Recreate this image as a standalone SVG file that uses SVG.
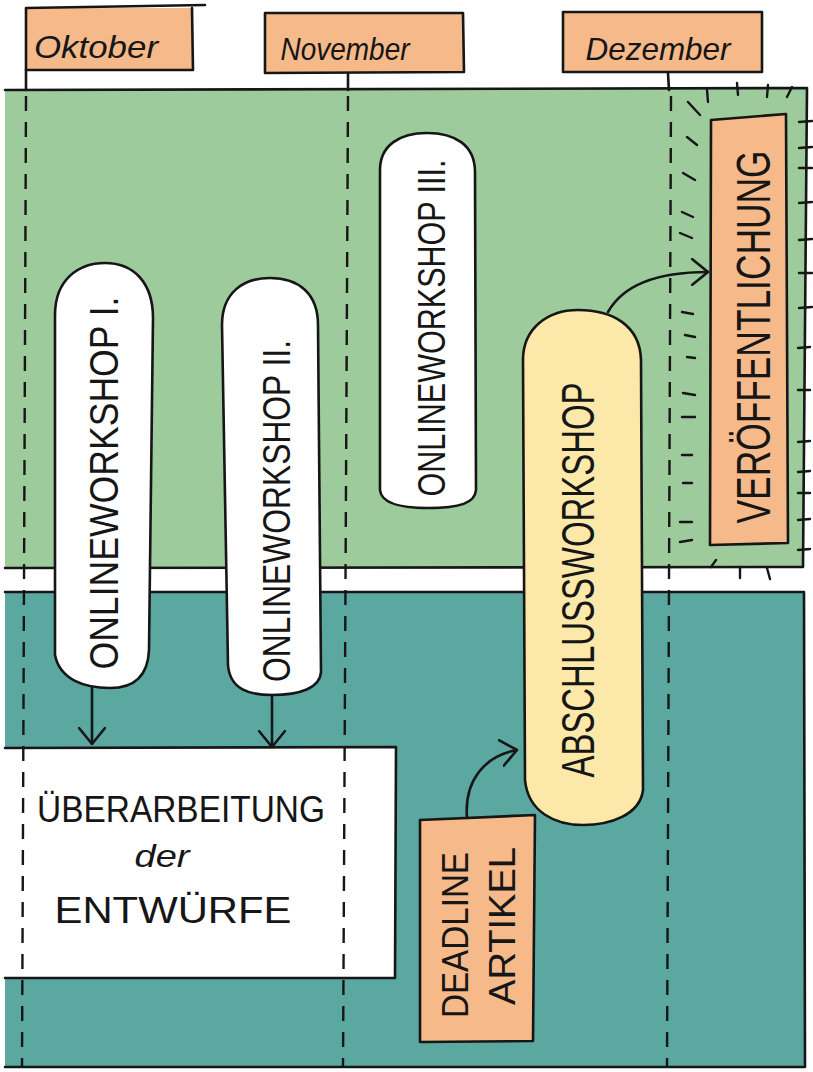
<svg xmlns="http://www.w3.org/2000/svg" width="813" height="1072" viewBox="0 0 813 1072">
<defs>
<style>
.ln{fill:none;stroke:#161616;stroke-width:2.6;stroke-linecap:round;stroke-linejoin:round}
.dash{fill:none;stroke:#161616;stroke-width:2.4;stroke-dasharray:15 11}
.tick{fill:none;stroke:#161616;stroke-width:2.4;stroke-linecap:round}
.pill{stroke:#161616;stroke-width:2.6;stroke-linejoin:round}
.org{fill:#F5B98A}
.wht{fill:#FFFFFF}
.yel{fill:#FCE8A8}
.cap{font-family:"Liberation Sans","DejaVu Sans",sans-serif;fill:#161616;text-anchor:middle}
.hand{font-family:"Liberation Sans","DejaVu Sans",sans-serif;font-style:italic;fill:#161616;text-anchor:middle}
</style>
<marker id="arr" viewBox="0 0 18 28" refX="17" refY="14" markerWidth="18" markerHeight="28" markerUnits="userSpaceOnUse" orient="auto">
<path d="M1,1 L17,14 L1,27" fill="none" stroke="#161616" stroke-width="2.6" stroke-linecap="round" stroke-linejoin="round"/>
</marker>
</defs>
<rect x="0" y="0" width="813" height="1072" fill="#FFFFFF"/>

<g id="background">
<path d="M5,90 L807,88 L803,567 L5,568 Z" fill="#9ECB9C"/>
<path d="M5,592 L804,592 L805,1067 L5,1067 Z" fill="#5BA8A1"/>
<path class="ln" d="M5,90 L807,88 L803,567 L5,568"/>
<path class="ln" d="M5,592 L804,592 L805,1067 L5,1067"/>
</g>

<g id="ueberarbeitung">
<path class="wht" d="M5,748 L396,747 L395,978 L5,978 Z"/>
<path class="ln" d="M5,748 L396,747 L395,978 L5,978"/>
<text class="cap" x="181" y="822" font-size="37" textLength="288" lengthAdjust="spacingAndGlyphs">ÜBERARBEITUNG</text>
<text class="hand" x="162" y="867" font-size="32" textLength="55" lengthAdjust="spacingAndGlyphs">der</text>
<text class="cap" x="173" y="923" font-size="37" textLength="237" lengthAdjust="spacingAndGlyphs">ENTWÜRFE</text>
</g>

<g id="timeline">
<path class="ln" d="M26,70 L26,90"/>
<path class="ln" d="M348,73 L348,90"/>
<path class="ln" d="M668,73 L669,90"/>
<path class="dash" d="M26,96 L22,1068"/>
<path class="dash" d="M348,96 L343,1068"/>
<path class="dash" d="M671,96 L667,1068"/>
</g>

<g id="month-oktober">
<path class="org" d="M26,8 L192,8 L193,70 L26,70 Z"/>
<path class="ln" d="M26,8 L205,5 M192,8 L193,70 L26,70 L26,8"/>
<text class="hand" x="96" y="58" font-size="32" textLength="124" lengthAdjust="spacingAndGlyphs">Oktober</text>
</g>
<g id="month-november">
<path class="org" d="M265,13 L463,13 L464,72 L265,73 Z"/>
<path class="ln" d="M265,13 L463,13 L464,72 L265,73 Z"/>
<text class="hand" x="345" y="60" font-size="32" textLength="129" lengthAdjust="spacingAndGlyphs">November</text>
</g>
<g id="month-dezember">
<path class="org" d="M563,12 L762,12 L762,72 L563,72 Z"/>
<path class="ln" d="M563,12 L762,12 L762,72 L563,72 Z"/>
<text class="hand" x="658" y="60" font-size="32" textLength="145" lengthAdjust="spacingAndGlyphs">Dezember</text>
</g>

<g id="workshop-1">
<path class="pill wht" d="M55,315 C55,280 78,263 105,263 C133,263 153,282 153,318 L149,650 C148,675 135,688 110,688 C85,688 60,680 55,655 Z"/>
<text class="cap" transform="translate(118,483) rotate(-90)" font-size="40" textLength="373" lengthAdjust="spacingAndGlyphs">ONLINEWORKSHOP I.</text>
</g>
<g id="workshop-2">
<path class="pill wht" d="M222,325 C222,292 244,278 270,278 C298,278 318,293 318,325 L321,672 C320,688 300,695 272,695 C250,695 230,690 228,665 Z"/>
<text class="cap" transform="translate(290,511) rotate(-90)" font-size="38" textLength="342" lengthAdjust="spacingAndGlyphs">ONLINEWORKSHOP II.</text>
</g>
<g id="workshop-3">
<path class="pill wht" d="M380,170 C380,145 400,133 427,133 C455,133 475,145 475,172 L476,490 C475,503 460,508 428,508 C398,508 381,503 380,490 Z"/>
<text class="cap" transform="translate(445,328) rotate(-90)" font-size="38" textLength="337" lengthAdjust="spacingAndGlyphs">ONLINEWORKSHOP III.</text>
</g>
<g id="abschlussworkshop">
<path class="pill yel" d="M523,360 C523,328 548,310 578,310 C612,310 640,325 641,360 L643,790 C640,815 610,825 583,825 C555,825 528,812 525,780 Z"/>
<text class="cap" transform="translate(594,580) rotate(-90)" font-size="46" textLength="395" lengthAdjust="spacingAndGlyphs">ABSCHLUSSWORKSHOP</text>
</g>
<g id="deadline">
<path class="pill org" d="M420,820 L535,815 L533,1041 L420,1042 Z"/>
<text class="cap" transform="translate(468,935) rotate(-90)" font-size="36" textLength="166" lengthAdjust="spacingAndGlyphs">DEADLINE</text>
<text class="cap" transform="translate(515,926) rotate(-90)" font-size="36" textLength="158" lengthAdjust="spacingAndGlyphs">ARTIKEL</text>
</g>
<g id="veroeffentlichung">
<g id="rays">
<path class="tick" d="M707,90 L708,102 M737,83 L738,95 M768,85 L767,97 M792,87 L787,97"/>
<path class="tick" d="M799,122 L812,121 M799,148 L812,147 M799,168 L812,168 M799,203 L812,202 M799,240 L812,239 M799,273 L812,273 M799,308 L812,307 M798,348 L810,347 M798,390 L810,390 M798,442 L810,441 M798,472 L810,471 M798,493 L810,493 M798,520 L810,519 M798,550 L810,549"/>
<path class="tick" d="M688,102 L700,115 M687,137 L697,145 M683,173 L695,180 M682,212 L693,217 M680,233 L692,238 M682,312 L693,314 M685,335 L695,337 M687,357 L695,358 M683,393 L695,395 M682,417 L695,417 M682,455 L692,455 M683,483 L692,483 M680,522 L692,522 M680,542 L692,540"/>
<path class="tick" d="M711,567 L716,560 M740,567 L740,578 M767,568 L770,579"/>
</g>
<path class="pill org" d="M711,120 L786,114 L788,543 L710,545 Z"/>
<text class="cap" transform="translate(770,337) rotate(-90)" font-size="48" textLength="373" lengthAdjust="spacingAndGlyphs">VERÖFFENTLICHUNG</text>
</g>

<g id="connectors">
<path class="ln" d="M92,688 L92,744" marker-end="url(#arr)"/>
<path class="ln" d="M272,695 L272,747" marker-end="url(#arr)"/>
<path class="ln" d="M467,818 C464,780 485,756 517,750" marker-end="url(#arr)"/>
<path class="ln" d="M608,312 C622,287 652,272 708,272" marker-end="url(#arr)"/>
</g>
</svg>
